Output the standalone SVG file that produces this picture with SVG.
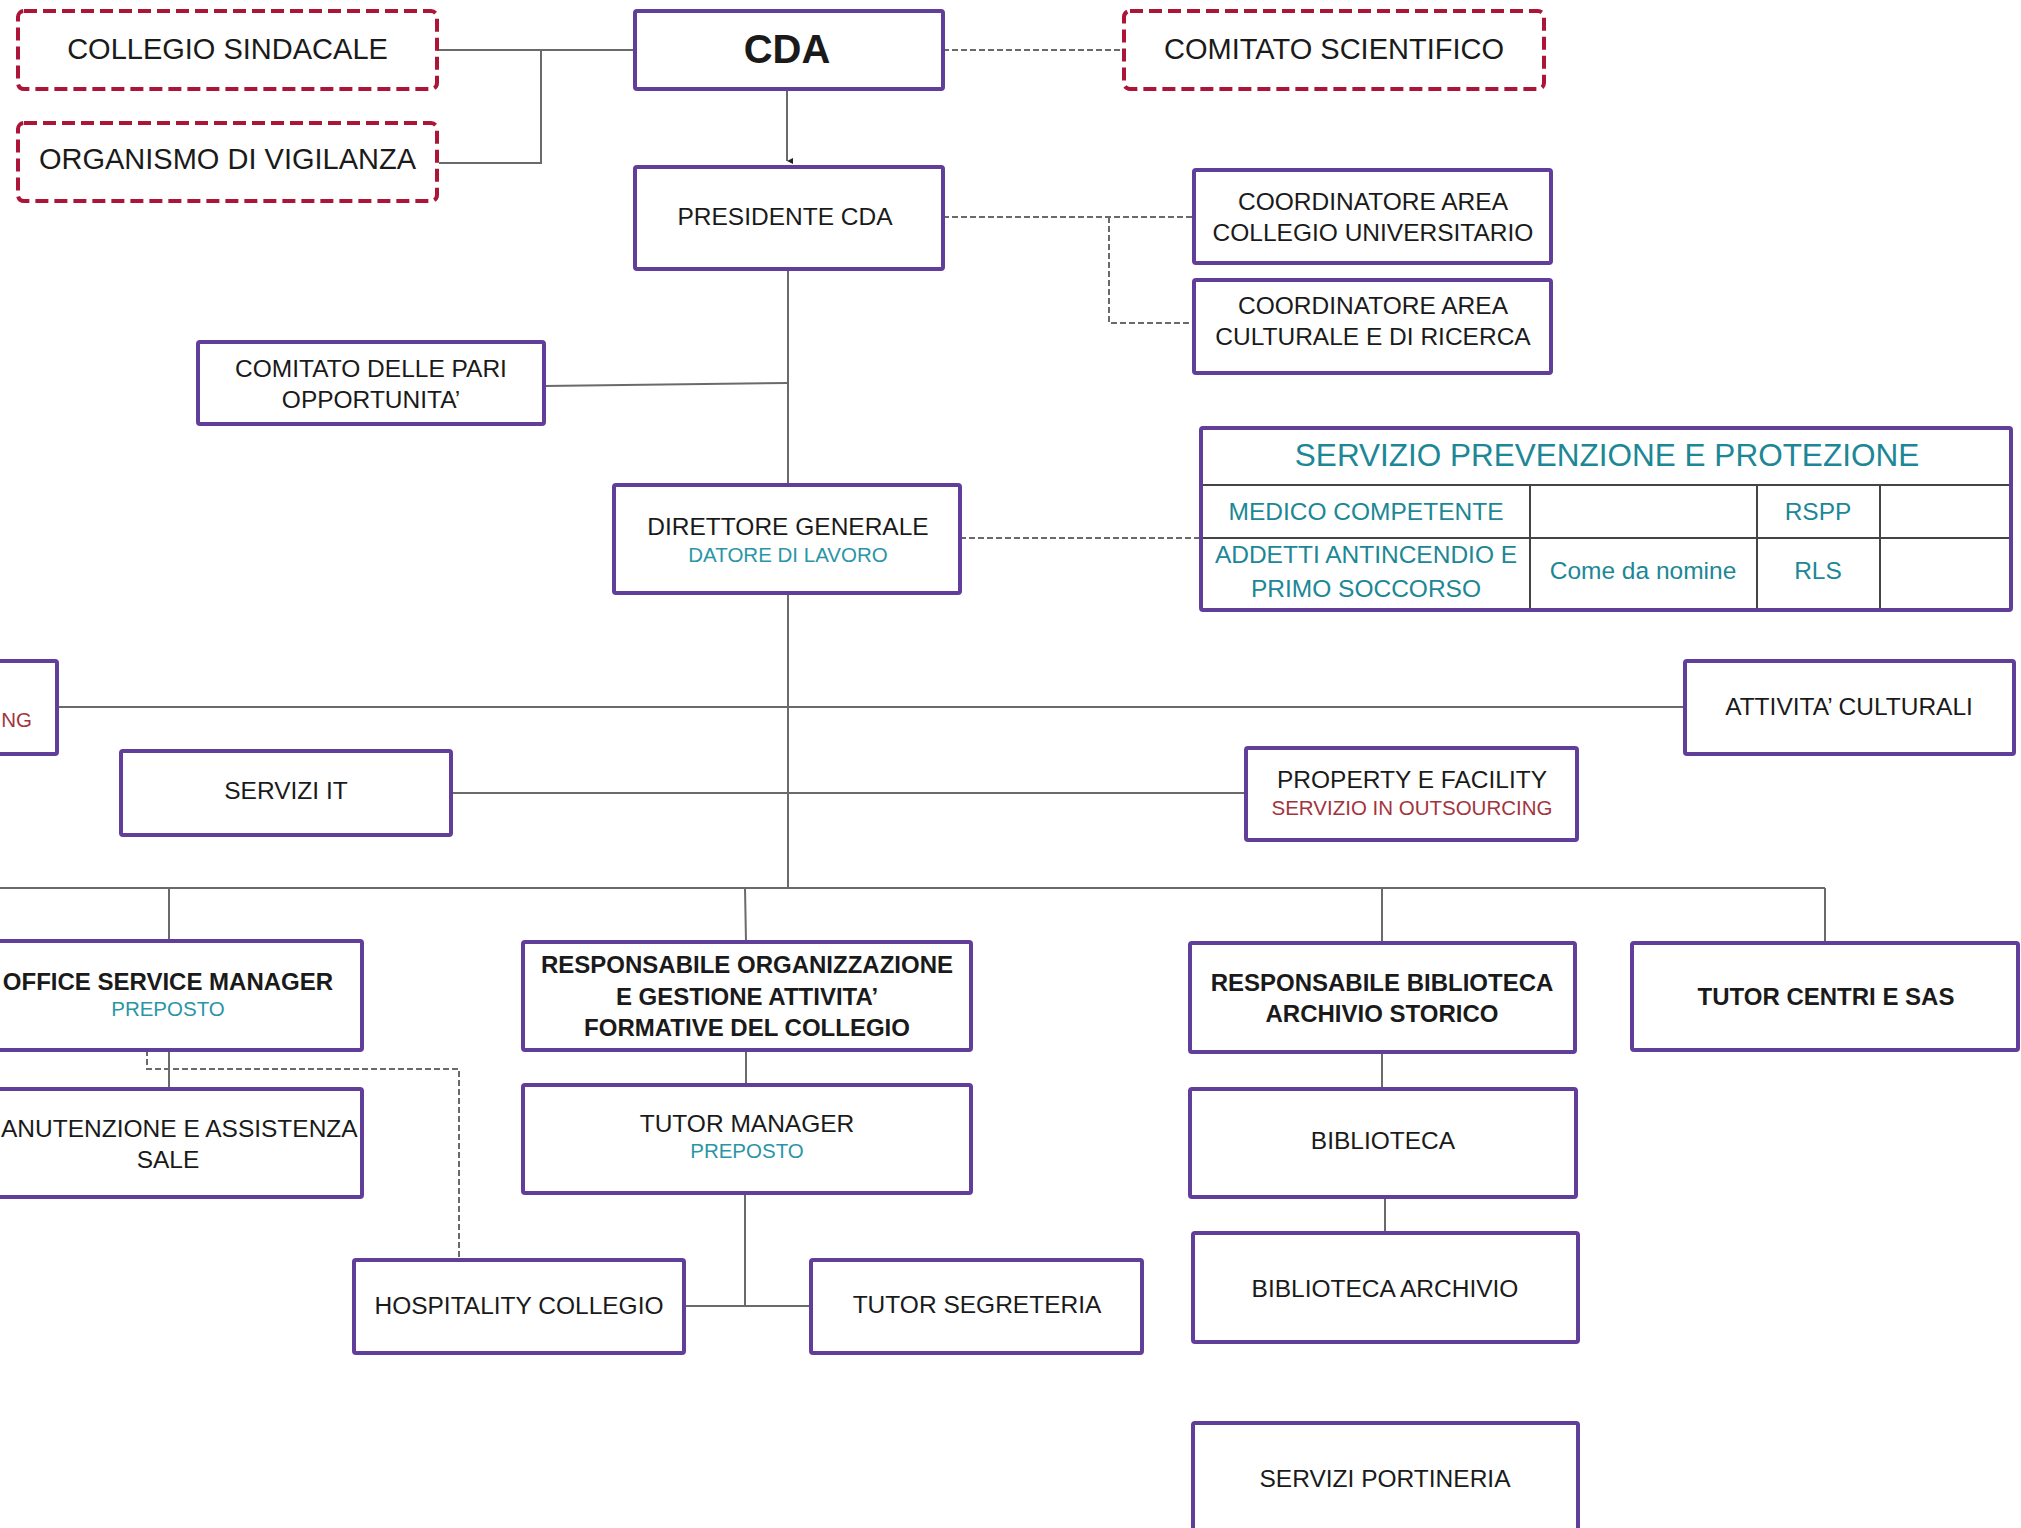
<svg xmlns="http://www.w3.org/2000/svg" width="2021" height="1528" viewBox="0 0 2021 1528">
<defs>
<style>
.box{fill:#fff;stroke:#603e9a;stroke-width:4;}
.dbox{fill:#fff;stroke:#ad1538;stroke-width:4;stroke-dasharray:13 6;}
.t{font-family:"Liberation Sans",Arial,sans-serif;font-size:24.5px;fill:#1a1a1a;text-anchor:middle;}
.b{font-weight:bold;font-size:24px;}
.big{font-size:29px;}
.sub{font-size:20.5px;fill:#2a95a6;}
.red{font-size:20.5px;fill:#a3343d;}
.teal{fill:#1c8796;}
.c{fill:none;stroke:#6a6a6a;stroke-width:2;}
.d{fill:none;stroke:#6a6a6a;stroke-width:2;stroke-dasharray:6 3;}
.grid{fill:none;stroke:#444;stroke-width:2;}
</style>
<marker id="arr" viewBox="0 0 10 10" refX="5" refY="10" markerWidth="7" markerHeight="6" orient="auto-start-reverse" markerUnits="userSpaceOnUse">
<path d="M0,0 L10,0 L5,10 z" fill="#222"/>
</marker>
</defs>
<rect width="2021" height="1528" fill="#fff"/>

<g id="connectors">
<path class="c" d="M437,50 H635 M541,50 V163 H439"/>
<path class="c" d="M787,89 V161" marker-end="url(#arr)"/>
<path class="c" d="M788,269 V484"/>
<path class="c" d="M544,386 L788,383"/>
<path class="c" d="M788,593 V888"/>
<path class="c" d="M57,707 H1685"/>
<path class="c" d="M451,793 H1246"/>
<path class="c" d="M0,888 H1825 M169,888 V941 M745,888 L746,942 M1382,888 V943 M1825,888 V943"/>
<path class="c" d="M169,1050 V1089"/>
<path class="c" d="M746,1050 V1084"/>
<path class="c" d="M745,1193 V1306 M684,1306 H811"/>
<path class="c" d="M1382,1052 V1088"/>
<path class="c" d="M1385,1197 V1233"/>
<path class="d" d="M943,50 H1124"/>
<path class="d" d="M943,217 H1194 M1109,217 V323 H1194"/>
<path class="d" d="M960,538 H1201"/>
<path class="d" d="M147,1050 V1069 H459 V1259"/>
</g>

<g id="collegio-sindacale">
<rect class="dbox" x="18" y="11" width="419" height="78" rx="6"/>
<text class="t big" x="227.5" y="58.5">COLLEGIO SINDACALE</text>
</g>
<g id="organismo-vigilanza">
<rect class="dbox" x="18" y="123" width="419" height="78" rx="6"/>
<text class="t big" x="227.5" y="168.5">ORGANISMO DI VIGILANZA</text>
</g>
<g id="cda">
<rect class="box" x="635" y="11" width="308" height="78" rx="2"/>
<text class="t" x="787" y="63" style="font-size:40px;font-weight:bold">CDA</text>
</g>
<g id="comitato-scientifico">
<rect class="dbox" x="1124" y="11" width="420" height="78" rx="6"/>
<text class="t big" x="1334" y="59">COMITATO SCIENTIFICO</text>
</g>
<g id="presidente-cda">
<rect class="box" x="635" y="167" width="308" height="102" rx="2"/>
<text class="t" x="785" y="225">PRESIDENTE CDA</text>
</g>
<g id="coordinatore-collegio">
<rect class="box" x="1194" y="170" width="357" height="93" rx="2"/>
<text class="t" x="1373" y="210">COORDINATORE AREA</text>
<text class="t" x="1373" y="241">COLLEGIO UNIVERSITARIO</text>
</g>
<g id="coordinatore-culturale">
<rect class="box" x="1194" y="280" width="357" height="93" rx="2"/>
<text class="t" x="1373" y="314">COORDINATORE AREA</text>
<text class="t" x="1373" y="345">CULTURALE E DI RICERCA</text>
</g>
<g id="comitato-pari">
<rect class="box" x="198" y="342" width="346" height="82" rx="2"/>
<text class="t" x="371" y="377">COMITATO DELLE PARI</text>
<text class="t" x="371" y="408">OPPORTUNITA’</text>
</g>
<g id="direttore-generale">
<rect class="box" x="614" y="485" width="346" height="108" rx="2"/>
<text class="t" x="788" y="535">DIRETTORE GENERALE</text>
<text class="t sub" x="788" y="562">DATORE DI LAVORO</text>
</g>
<g id="servizio-prevenzione">
<rect fill="#fff" x="1201" y="428" width="810" height="182"/>
<path class="grid" d="M1201,485 H2011 M1201,538 H2011 M1530,485 V610 M1757,485 V610 M1880,485 V610"/>
<rect fill="none" stroke="#603e9a" stroke-width="4" x="1201" y="428" width="810" height="182" rx="2"/>
<text class="t teal" x="1607" y="466" style="font-size:31.5px">SERVIZIO PREVENZIONE E PROTEZIONE</text>
<text class="t teal" x="1366" y="520">MEDICO COMPETENTE</text>
<text class="t teal" x="1818" y="520">RSPP</text>
<text class="t teal" x="1366" y="563">ADDETTI ANTINCENDIO E</text>
<text class="t teal" x="1366" y="597">PRIMO SOCCORSO</text>
<text class="t teal" x="1643" y="579">Come da nomine</text>
<text class="t teal" x="1818" y="579">RLS</text>
</g>
<g id="servizio-outsourcing-left">
<rect class="box" x="-40" y="661" width="97" height="93" rx="2"/>
<text class="t red" x="32" y="727" style="text-anchor:end">NG</text>
</g>
<g id="attivita-culturali">
<rect class="box" x="1685" y="661" width="329" height="93" rx="2"/>
<text class="t" x="1849" y="715">ATTIVITA’ CULTURALI</text>
</g>
<g id="servizi-it">
<rect class="box" x="121" y="751" width="330" height="84" rx="2"/>
<text class="t" x="286" y="799">SERVIZI IT</text>
</g>
<g id="property-facility">
<rect class="box" x="1246" y="748" width="331" height="92" rx="2"/>
<text class="t" x="1412" y="788">PROPERTY E FACILITY</text>
<text class="t red" x="1412" y="815">SERVIZIO IN OUTSOURCING</text>
</g>
<g id="office-service-manager">
<rect class="box" x="-26" y="941" width="388" height="109" rx="2"/>
<text class="t b" x="168" y="990">OFFICE SERVICE MANAGER</text>
<text class="t sub" x="168" y="1016">PREPOSTO</text>
</g>
<g id="manutenzione">
<rect class="box" x="-26" y="1089" width="388" height="108" rx="2"/>
<text class="t" x="1" y="1137" style="text-anchor:start">ANUTENZIONE E ASSISTENZA</text>
<text class="t" x="168" y="1168">SALE</text>
</g>
<g id="responsabile-organizzazione">
<rect class="box" x="523" y="942" width="448" height="108" rx="2"/>
<text class="t b" x="747" y="973">RESPONSABILE ORGANIZZAZIONE</text>
<text class="t b" x="747" y="1005">E GESTIONE ATTIVITA’</text>
<text class="t b" x="747" y="1036">FORMATIVE DEL COLLEGIO</text>
</g>
<g id="tutor-manager">
<rect class="box" x="523" y="1085" width="448" height="108" rx="2"/>
<text class="t" x="747" y="1132">TUTOR MANAGER</text>
<text class="t sub" x="747" y="1158">PREPOSTO</text>
</g>
<g id="hospitality-collegio">
<rect class="box" x="354" y="1260" width="330" height="93" rx="2"/>
<text class="t" x="519" y="1314">HOSPITALITY COLLEGIO</text>
</g>
<g id="tutor-segreteria">
<rect class="box" x="811" y="1260" width="331" height="93" rx="2"/>
<text class="t" x="977" y="1313">TUTOR SEGRETERIA</text>
</g>
<g id="responsabile-biblioteca">
<rect class="box" x="1190" y="943" width="385" height="109" rx="2"/>
<text class="t b" x="1382" y="991">RESPONSABILE BIBLIOTECA</text>
<text class="t b" x="1382" y="1022">ARCHIVIO STORICO</text>
</g>
<g id="tutor-centri-sas">
<rect class="box" x="1632" y="943" width="386" height="107" rx="2"/>
<text class="t b" x="1826" y="1005">TUTOR CENTRI E SAS</text>
</g>
<g id="biblioteca">
<rect class="box" x="1190" y="1089" width="386" height="108" rx="2"/>
<text class="t" x="1383" y="1149">BIBLIOTECA</text>
</g>
<g id="biblioteca-archivio">
<rect class="box" x="1193" y="1233" width="385" height="109" rx="2"/>
<text class="t" x="1385" y="1297">BIBLIOTECA ARCHIVIO</text>
</g>
<g id="servizi-portineria">
<rect class="box" x="1193" y="1423" width="385" height="110" rx="2"/>
<text class="t" x="1385" y="1487">SERVIZI PORTINERIA</text>
</g>
</svg>
